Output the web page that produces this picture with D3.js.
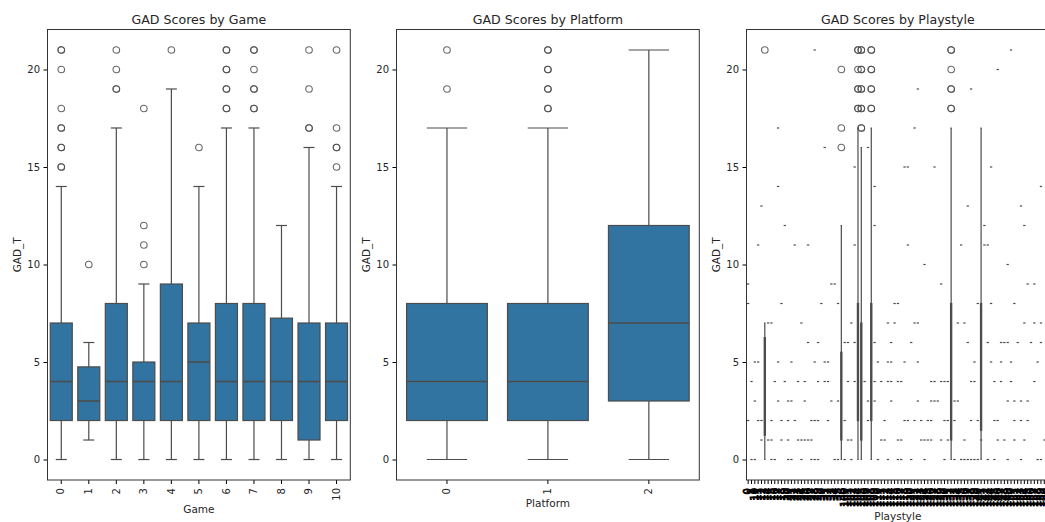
<!DOCTYPE html>
<html>
<head>
<meta charset="utf-8">
<script src="https://cdn.jsdelivr.net/npm/d3@7"></script>
<style>
  html, body { margin: 0; padding: 0; background: #fff; overflow: hidden; }
  text { font-family: "DejaVu Sans", sans-serif; fill: #262626; }
</style>
</head>
<body>
<script>
const width = 1045;
const height = 522;
const boxColor = '#3274a1';
const lineColor = '#4c4c4c';
const lineW = 1.2;
const scoreTicks = [0, 5, 10, 15, 20];

// [whisker low, q1, median, q3, whisker high]
const games = [0, 1, 2, 3, 4, 5, 6, 7, 8, 9, 10];
const gameStats = [
  [0, 2, 4, 7, 14],
  [1, 2, 3, 4.75, 6],
  [0, 2, 4, 8, 17],
  [0, 2, 4, 5, 9],
  [0, 2, 4, 9, 19],
  [0, 2, 5, 7, 14],
  [0, 2, 4, 8, 17],
  [0, 2, 4, 8, 17],
  [0, 2, 4, 7.25, 12],
  [0, 1, 4, 7, 16],
  [0, 2, 4, 7, 14]
];
// repeated values are overlapping fliers, they print darker
const gameOutliers = [
  [15, 15, 16, 16, 17, 17, 18, 20, 21, 21],
  [10],
  [19, 19, 20, 21],
  [10, 11, 12, 18],
  [21],
  [16],
  [18, 18, 19, 19, 20, 20, 21, 21],
  [18, 18, 19, 19, 20, 21, 21],
  [],
  [17, 17, 19, 21],
  [15, 16, 16, 17, 21]
];

const platforms = [0, 1, 2];
const platformStats = [
  [0, 2, 4, 8, 17],
  [0, 2, 4, 8, 17],
  [0, 3, 7, 12, 21]
];
const platformOutliers = [
  [19, 21],
  [18, 18, 19, 19, 20, 20, 21, 21],
  []
];

// the real labels can't be read under the overlap, only their digit count
const playstyles = [
  0, 1, 10, 11, 12, 13, 14, 15, 16, 17, 18, 19, 20, 21, 22, 23, 24, 25, 26, 27,
  28, 29, 30, 31, 32, 33, 34, 35, 36, 100, 101, 102, 103, 104, 105, 106, 107, 108, 109, 110,
  111, 112, 113, 114, 115, 116, 117, 118, 119, 120, 121, 122, 123, 124, 125, 126, 127, 128, 129, 130,
  131, 132, 133, 134, 135, 136, 137, 138, 139, 140, 141, 142, 143, 144, 145, 146, 147, 148, 149, 150,
  151, 152, 153, 154, 155, 156, 157, 158, 159, 160, 161
];
// positions in playstyles of the groups that have a real box
const playstyleBoxIndex = [5, 28, 33, 34, 37, 61, 70];
const playstyleStats = [
  [0, 1.25, 4, 6.25, 7],
  [0, 1, 4, 5.5, 12],
  [0, 2, 4, 8, 17],
  [0, 1, 4, 7, 16],
  [0, 2, 4, 8, 17],
  [0, 1, 4, 8, 17],
  [0, 1.5, 4, 8, 17]
];
const playstyleOutliers = [
  [21],
  [16, 17, 20],
  [18, 18, 19, 19, 20, 21, 21],
  [17, 17, 18, 18, 19, 19, 20, 20, 21, 21],
  [18, 18, 19, 19, 20, 20, 21, 21],
  [18, 18, 19, 19, 20, 21, 21],
  []
];
// groups with one answer only, listed per GAD_T score (array index = score)
const singlesByScore = [
  [1, 2, 7, 8, 12, 13, 16, 19, 20, 21, 26, 27, 29, 31, 39, 42, 45, 46, 49, 53, 59, 62, 64, 65, 66, 67, 68, 69, 72, 74, 78, 82, 87, 88],
  [4, 6, 7, 10, 12, 15, 16, 17, 18, 19, 30, 31, 40, 41, 45, 46, 52, 53, 54, 55, 58, 60, 65, 70, 75, 77, 80, 83, 89],
  [0, 3, 4, 7, 10, 12, 14, 19, 20, 21, 24, 29, 36, 41, 47, 48, 50, 52, 54, 55, 59, 60, 62, 67, 69, 74, 75, 80, 82, 84],
  [2, 9, 12, 13, 17, 25, 27, 36, 38, 43, 51, 55, 56, 57, 62, 63, 78, 80, 82, 84],
  [1, 8, 11, 15, 17, 21, 23, 24, 30, 32, 35, 38, 40, 42, 43, 45, 46, 55, 56, 58, 59, 60, 67, 68, 74, 76, 79, 86],
  [2, 3, 9, 13, 20, 23, 24, 39, 42, 43, 47, 51, 68, 73, 76, 79, 87],
  [18, 21, 29, 30, 32, 38, 43, 49, 66, 72, 76, 77, 78, 81, 85, 88],
  [6, 7, 16, 31, 42, 44, 50, 51, 63, 65, 83, 86, 88],
  [0, 10, 22, 27, 44, 45, 69, 73, 80],
  [0, 25, 26, 58, 84, 86],
  [53, 78],
  [3, 14, 18, 32, 48, 64, 71, 72],
  [11, 38, 71, 83],
  [4, 66, 82],
  [9, 38, 88],
  [32, 47, 48, 56, 73],
  [23, 36],
  [9, 50],
  [],
  [51, 67],
  [75],
  [20, 79]
];

const margin = {top: 29.5, bottom: 42};
const plotHeight = height - margin.top - margin.bottom;
const plotWidth = 302.8;

const svg = d3.select('body')
  .append('svg')
  .attr('width', width)
  .attr('height', height)
  .style('display', 'block');

const y = d3.scaleLinear()
  .domain([-1.05, 22.05])
  .range([plotHeight, 0]);

function renderPanel(left, title, xName, xLabelY, categories) {
  const g = svg.append('g')
    .attr('class', 'panel')
    .attr('transform', `translate(${left}, ${margin.top})`);

  const x = d3.scaleBand()
    .domain(categories)
    .range([0, plotWidth]);

  const yAxis = g.append('g').call(d3.axisLeft(y).tickValues(scoreTicks).tickSize(4).tickPadding(3.5));
  yAxis.select('.domain').remove();
  yAxis.selectAll('text').style('font-size', '10px');
  yAxis.selectAll('line').attr('stroke-width', 1);

  const xAxis = g.append('g')
    .attr('transform', `translate(0, ${plotHeight})`)
    .call(d3.axisBottom(x).tickSize(4));
  xAxis.select('.domain').remove();
  xAxis.selectAll('line').attr('stroke-width', 1);
  xAxis.selectAll('text')
    .style('font-size', '10px')
    .attr('transform', 'rotate(-90)')
    .attr('text-anchor', 'end')
    .attr('x', -8)
    .attr('y', 0)
    .attr('dy', '0.32em');

  // crowded axis: labels run together into a solid band
  if (categories.length > 20) {
    xAxis.selectAll('text')
      .style('fill', '#000')
      .attr('stroke', '#000')
      .attr('stroke-width', 0.8);
  }

  g.append('text')
    .attr('x', plotWidth / 2)
    .attr('y', -6)
    .attr('text-anchor', 'middle')
    .style('font-size', '12.6px')
    .text(title);

  g.append('text')
    .attr('x', plotWidth / 2)
    .attr('y', xLabelY - margin.top)
    .attr('text-anchor', 'middle')
    .style('font-size', '10.5px')
    .text(xName);

  g.append('text')
    .attr('transform', `translate(-27, ${plotHeight / 2}) rotate(-90)`)
    .attr('text-anchor', 'middle')
    .style('font-size', '10.5px')
    .text('GAD_T');

  return {g, x};
}

function renderBoxes(panel, categories, stats, outliers) {
  const {g, x} = panel;
  // thin bands are nearly all outline, the fill barely shows
  const boxW = x.bandwidth() * (x.bandwidth() < 5 ? 0.35 : 0.8);
  const capW = x.bandwidth() * 0.4;
  const rows = categories.map((c, i) => ({c, s: stats[i], out: outliers[i]}));

  const box = g.selectAll('g.box')
    .data(rows)
    .enter()
    .append('g')
    .attr('class', 'box')
    .attr('transform', d => `translate(${x(d.c) + x.bandwidth() / 2}, 0)`);

  box.append('line')
    .attr('y1', d => y(d.s[0])).attr('y2', d => y(d.s[4]))
    .attr('stroke', lineColor).attr('stroke-width', lineW);

  box.selectAll('line.cap')
    .data(d => [d.s[0], d.s[4]])
    .enter()
    .append('line')
    .attr('class', 'cap')
    .attr('x1', -capW / 2).attr('x2', capW / 2)
    .attr('y1', d => y(d)).attr('y2', d => y(d))
    .attr('stroke', lineColor).attr('stroke-width', lineW);

  box.append('rect')
    .attr('x', -boxW / 2)
    .attr('width', boxW)
    .attr('y', d => y(d.s[3]))
    .attr('height', d => y(d.s[1]) - y(d.s[3]))
    .attr('fill', boxColor)
    .attr('stroke', lineColor).attr('stroke-width', lineW);

  box.append('line')
    .attr('x1', -boxW / 2).attr('x2', boxW / 2)
    .attr('y1', d => y(d.s[2])).attr('y2', d => y(d.s[2]))
    .attr('stroke', lineColor).attr('stroke-width', 1.6);

  box.selectAll('circle')
    .data(d => d.out)
    .enter()
    .append('circle')
    .attr('cy', d => y(d))
    .attr('r', 3.3)
    .attr('fill', 'none')
    .attr('stroke', lineColor)
    .attr('stroke-width', 1.1)
    .attr('stroke-opacity', 0.85);
}

function renderSingles(panel) {
  const {g, x} = panel;
  const boxW = x.bandwidth() * 0.7;
  singlesByScore.forEach((groups, score) => {
    g.append('g')
      .attr('class', 'singles')
      .selectAll('line')
      .data(groups)
      .enter()
      .append('line')
      .attr('x1', i => x(playstyles[i]) + x.bandwidth() / 2 - boxW / 2)
      .attr('x2', i => x(playstyles[i]) + x.bandwidth() / 2 + boxW / 2)
      .attr('y1', y(score))
      .attr('y2', y(score))
      .attr('stroke', lineColor)
      .attr('stroke-width', lineW);
  });
}

function renderFrame(panel) {
  panel.g.append('rect')
    .attr('width', plotWidth)
    .attr('height', plotHeight)
    .attr('fill', 'none')
    .attr('stroke', '#333')
    .attr('stroke-width', 1);
}

const gamePanel = renderPanel(47.5, 'GAD Scores by Game', 'Game', 513, games);
renderBoxes(gamePanel, games, gameStats, gameOutliers);
renderFrame(gamePanel);

const platformPanel = renderPanel(396.5, 'GAD Scores by Platform', 'Platform', 507, platforms);
renderBoxes(platformPanel, platforms, platformStats, platformOutliers);
renderFrame(platformPanel);

const stylePanel = renderPanel(746.5, 'GAD Scores by Playstyle', 'Playstyle', 520, playstyles);
renderSingles(stylePanel);
renderBoxes(stylePanel, playstyleBoxIndex.map(i => playstyles[i]), playstyleStats, playstyleOutliers);
renderFrame(stylePanel);
</script>
</body>
</html>
